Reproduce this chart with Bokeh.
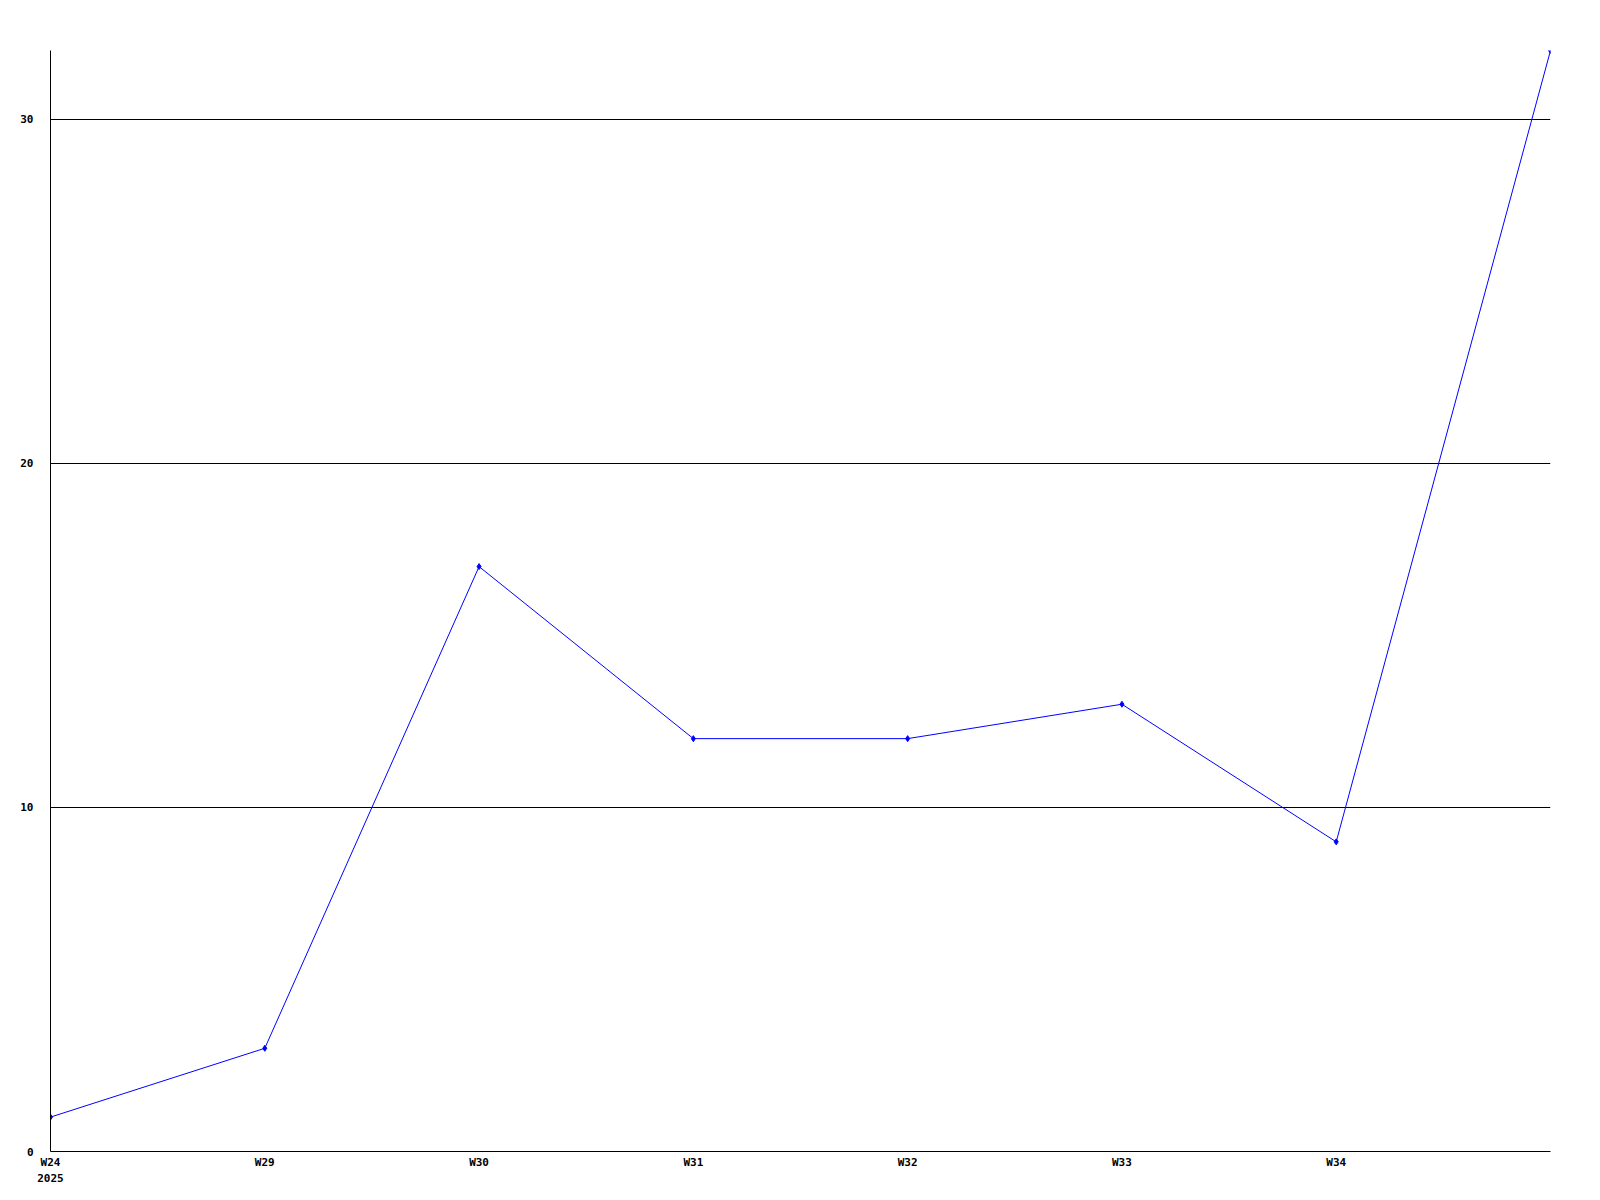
from bokeh.plotting import figure
from bokeh.models import FixedTicker, Range1d
from bokeh.embed import file_html
from bokeh.resources import INLINE

weeks = ["W24", "W29", "W30", "W31", "W32", "W33", "W34", "W35"]
values = [1, 3, 17, 12, 12, 13, 9, 32]
year_label = "2025"
y_ticks = [0, 10, 20, 30]
FONT = "DejaVu Sans Mono"

xs = list(range(len(weeks)))

p = figure(width=1584, height=1188, output_backend="svg", toolbar_location=None,
           x_range=Range1d(0, len(weeks) - 1), y_range=Range1d(0, max(values)),
           min_border_left=50, min_border_right=34, min_border_top=50, min_border_bottom=34)
p.outline_line_color = None
p.background_fill_color = "white"
p.border_fill_color = "white"

# x axis
labels = {i: w for i, w in enumerate(weeks[:-1])}
labels[0] = weeks[0] + "\n" + year_label
p.xaxis.ticker = FixedTicker(ticks=xs[:-1])
p.xaxis.major_label_overrides = labels
p.xaxis.major_tick_line_color = None
p.xaxis.minor_tick_line_color = None
p.xaxis.axis_line_color = "black"
p.xaxis.major_label_text_font = FONT
p.xaxis.major_label_text_font_style = "bold"
p.xaxis.major_label_text_font_size = "11px"
p.xaxis.major_label_text_color = "black"
p.xaxis.major_label_text_line_height = 1.3
p.xaxis.major_label_standoff = -2
p.xgrid.grid_line_color = None

# y axis
p.yaxis.ticker = FixedTicker(ticks=y_ticks)
p.yaxis.major_tick_line_color = None
p.yaxis.minor_tick_line_color = None
p.yaxis.major_label_text_font = FONT
p.yaxis.major_label_text_font_style = "bold"
p.yaxis.major_label_text_font_size = "11px"
p.yaxis.major_label_text_color = "black"
p.yaxis.major_label_standoff = 11
p.yaxis.axis_line_color = "black"
p.ygrid.ticker = FixedTicker(ticks=[t for t in y_ticks if t > 0])
p.ygrid.grid_line_color = "black"
p.ygrid.grid_line_alpha = 1.0
p.ygrid.grid_line_width = 1

p.line(xs, values, line_color="#0000ff", line_width=1)
p.scatter(xs, values, marker="diamond", size=6, color="#0000ff")

open("out.html", "w").write(file_html(p, INLINE))
